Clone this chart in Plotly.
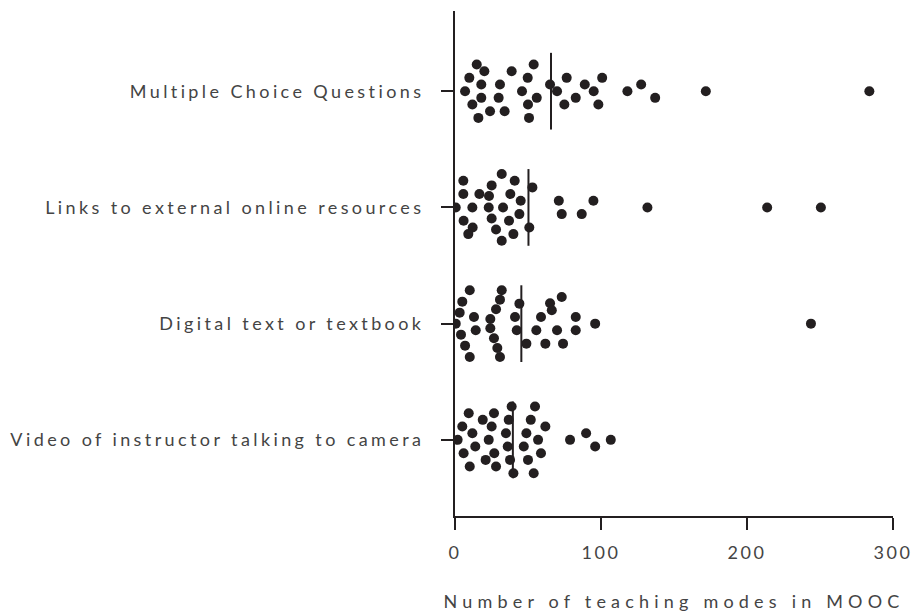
import plotly.graph_objects as go

# Categories, bottom to top
categories = [
    "Video of instructor talking to camera",
    "Digital text or textbook",
    "Links to external online resources",
    "Multiple Choice Questions",
]

# Values, with beeswarm row offsets (positive = up)
video_vals = [38.8, 54.8, 9.4, 26.7, 19.0, 36.8, 51.9, 5.0, 25.1, 61.9, 11.9, 34.9, 48.9, 89.8,
              1.8, 23.1, 56.9, 78.8, 106.7, 13.9, 36.1, 47.1, 96.0, 5.9, 26.9, 58.9, 21.0, 37.7,
              50.0, 10.1, 28.1, 40.0, 53.9]
video_rows = [5, 5, 4, 4, 3, 3, 3, 2, 2, 2, 1, 1, 1, 1,
              0, 0, 0, 0, 0, -1, -1, -1, -1, -2, -2, -2, -3, -3,
              -3, -4, -4, -5, -5]

digital_vals = [10.1, 32.0, 5.0, 30.8, 73.1, 44.1, 65.1, 3.2, 28.1, 66.3, 13.0, 24.2, 41.1, 58.9,
                82.7, 0.5, 96.0, 243.8, 4.1, 14.2, 24.2, 42.3, 55.7, 69.9, 82.7, 26.7, 48.9, 61.9,
                74.0, 6.9, 29.0, 10.1, 30.8]
digital_rows = [5, 5, 3.3, 3.6, 4, 3, 3.05, 1.65, 2.15, 2, 1, 0.7, 1, 1,
                1, 0, 0, 0, -1.65, -1, -0.7, -1, -1, -1, -1, -2.2, -3, -3,
                -3, -3.3, -3.65, -5, -5]

links_vals = [32.0, 5.7, 40.9, 25.1, 53.0, 5.7, 16.7, 23.3, 37.9, 45.0, 71.1, 94.8, 0.5, 11.9,
              23.1, 32.9, 131.8, 213.8, 250.6, 5.9, 25.1, 37.0, 44.1, 73.1, 86.8, 12.1, 28.1,
              50.9, 9.1, 40.0, 32.0]
links_rows = [5, 4, 4, 3.3, 3, 2, 2, 1.7, 2, 1, 1, 1, 0, 0,
              0, 0, 0, 0, 0, -2, -1.65, -2, -1, -1, -1, -3, -3.3,
              -3, -4, -4, -5]

mcq_vals = [14.9, 53.9, 20.1, 38.8, 9.8, 49.8, 76.5, 100.8, 18.0, 30.8, 65.1, 88.9, 127.5, 6.9,
            45.9, 69.9, 95.0, 118.1, 171.8, 283.8, 18.0, 29.9, 56.0, 82.7, 137.1, 11.9, 50.0,
            74.9, 98.2, 24.0, 34.0, 16.0, 50.7]
mcq_rows = [4, 4, 3, 3, 2, 2, 2, 2, 1, 1, 1, 1, 1, 0,
            0, 0, 0, 0, 0, 0, -1, -1, -1, -1, -1, -2, -2,
            -2, -2, -3, -3, -4, -4]

x_ticks = [0, 100, 200, 300]
x_title = "Number of teaching modes in MOOC"

series = [(video_vals, video_rows), (digital_vals, digital_rows),
          (links_vals, links_rows), (mcq_vals, mcq_rows)]

ROW = 0.0574
HALF = 0.33
DOT = "#231f20"
TXT = "#444444"
FONT = "Lato"

fig = go.Figure()
for i, (vals, rows) in enumerate(series):
    fig.add_trace(go.Scatter(
        x=vals, y=[i + r * ROW for r in rows], mode="markers",
        marker=dict(size=10, color=DOT), showlegend=False, hoverinfo="x"))
    m = sum(vals) / len(vals)
    fig.add_trace(go.Scatter(
        x=[m, m], y=[i - HALF, i + HALF], mode="lines",
        line=dict(color=DOT, width=2), showlegend=False, hoverinfo="skip"))

fig.update_layout(
    width=912, height=612,
    margin=dict(l=455, r=19.3, t=11, b=96),
    plot_bgcolor="white", paper_bgcolor="white",
    font=dict(family=FONT, size=18, color=TXT),
)
fig.update_xaxes(
    range=[0, 300], tickvals=x_ticks, ticktext=[str(t) for t in x_ticks],
    showgrid=False, zeroline=False, showline=True, linecolor=DOT, linewidth=2,
    ticks="outside", ticklen=12, tickwidth=2, tickcolor=DOT,
    tickfont=dict(family=FONT, size=18, color=TXT), ticklabelstandoff=7,
    title=dict(text=x_title, font=dict(family=FONT, size=18, color=TXT), standoff=34),
    automargin=False,
)
fig.update_yaxes(
    range=[-0.655, 3.69], tickvals=[0, 1, 2, 3], ticktext=categories,
    showgrid=False, zeroline=False, showline=True, linecolor=DOT, linewidth=2,
    ticks="outside", ticklen=12, tickwidth=2, tickcolor=DOT,
    tickfont=dict(family=FONT, size=18, color=TXT), ticklabelstandoff=13,
    automargin=False,
)

css = ("document.body.style.margin='0';"
       "document.documentElement.style.overflow='hidden';"
       "var s=document.createElement('style');"
       "s.textContent='body{margin:0;}"
       ".ytick text{letter-spacing:3.4px;}"
       ".xtick text{letter-spacing:2.5px;}"
       ".g-xtitle text{letter-spacing:5.2px;}';"
       "document.head.appendChild(s);")
fig.write_html("out.html", post_script=css, config={"displayModeBar": False})
